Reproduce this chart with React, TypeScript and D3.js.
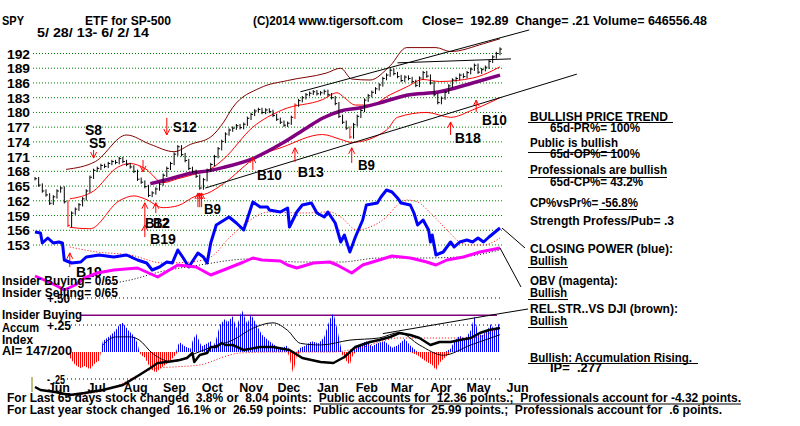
import * as d3 from "d3";

// SPY closes, every 2nd trading day, 5/28/13 - 6/2/14
const closes = [
  166.5, 165.2, 164.0, 163.2, 161.5, 162.8, 164.0, 164.6, 161.8, 157.0,
  159.5, 160.3, 161.2, 162.4, 164.0, 166.8, 168.2, 168.6, 169.2, 169.0,
  169.6, 170.0, 169.8, 170.6, 170.0, 169.4, 168.9, 168.0, 166.4, 165.8,
  164.9, 163.1, 163.6, 164.4, 165.4, 167.2, 168.6, 169.6, 171.5, 173.0,
  171.4, 170.2, 168.6, 168.0, 167.0, 164.6, 166.3, 168.2, 169.4, 171.0,
  172.6, 174.1, 175.6, 176.4, 176.8, 177.3, 176.9, 177.6, 178.8, 179.6,
  180.3, 180.6, 180.0, 180.5, 180.2, 179.4, 178.6, 178.0, 177.4, 177.8,
  179.0, 181.5, 182.4, 183.0, 183.6, 183.9, 184.2, 183.8, 184.0, 184.3,
  183.6, 183.0, 181.8, 179.2, 178.0, 176.8, 175.0, 177.5, 179.2, 180.4,
  182.5, 183.4, 184.1, 184.8, 185.6, 186.9, 187.6, 188.6, 187.9, 187.3,
  186.5, 187.2, 186.9, 186.3, 185.5, 187.0, 188.1, 187.4, 186.0, 183.6,
  182.0, 182.9, 184.1, 185.4, 186.6, 186.9, 187.6, 187.3, 188.1, 188.8,
  189.6, 188.2, 188.7, 189.2, 190.4, 191.3, 192.0, 192.9,
];
const redBars = [9, 71, 86];

// [trading day, value]
const upperBand: [number, number][] = [
  [17, 168.4], [33, 170], [50, 175.4], [63, 173.5], [76, 172], [85, 173.5], [96, 175],
  [103, 178], [108, 181], [123, 185], [138, 186.5], [159, 188], [167, 189], [173, 186.8],
  [183, 186.6], [194, 189.5], [203, 193.2], [219, 193.2], [227, 192.4], [245, 194], [254, 195],
];
const midBand: [number, number][] = [
  [19, 162.4], [32, 164], [45, 168.8], [52, 169.6], [60, 168.6], [70, 165.7], [78, 166.5],
  [88, 167.5], [96, 168.5], [103, 170.5], [119, 177], [135, 180.5], [157, 182.6], [165, 184],
  [169, 183], [175, 181.5], [183, 181.5], [194, 183.6], [203, 185.2], [212, 186.7], [221, 186.3],
  [239, 187], [247, 188], [254, 189.3],
];
const lowerBand: [number, number][] = [
  [19, 156.6], [30, 156.3], [46, 162], [54, 163], [60, 162.4], [70, 160.6], [78, 161],
  [88, 163], [94, 163.5], [103, 165.5], [121, 170.9], [135, 172.9], [157, 175.5], [167, 174.5],
  [173, 173.9], [192, 176.4], [198, 179], [214, 180], [227, 179], [239, 180.5], [254, 183],
];
const ma65: [number, number][] = [
  [63, 165.5], [74, 166.5], [85, 167.6], [96, 168.2], [103, 168.8], [119, 170.6], [135, 173.7],
  [149, 177], [157, 178.8], [167, 180.3], [177, 180.9], [188, 181.9], [203, 183.5], [221, 184.2],
  [239, 186], [254, 187.6],
];
const trendLines: [number, number][][] = [
  [[93, 164.6], [296, 187.8]],
  [[145, 184.2], [270, 196.8]],
  [[198, 190.1], [260, 190.9]],
];

const closingPower: [number, number][] = [
  [0, 38], [3, 37], [4, 27], [7, 32], [10, 27], [13, 28], [15, 27], [16, 10], [20, 7], [25, 8],
  [28, 13], [35, 15], [43, 13], [50, 15], [56, 10], [61, 7], [64, 0], [68, 3], [72, 8], [75, 7],
  [78, 20], [81, 12], [84, 3], [89, 17], [92, 13], [94, 7], [96, 27], [99, 45], [106, 53],
  [110, 47], [114, 40], [119, 68], [123, 63], [127, 63], [128, 60], [134, 58], [138, 62],
  [139, 43], [143, 58], [146, 65], [151, 67], [154, 57], [158, 53], [160, 58], [164, 47],
  [167, 28], [169, 35], [172, 18], [175, 33], [179, 50], [181, 65], [187, 67], [189, 73],
  [192, 80], [195, 78], [198, 72], [200, 67], [205, 65], [207, 57], [209, 45], [212, 50],
  [215, 40], [216, 28], [217, 35], [219, 15], [223, 18], [227, 28], [229, 23], [232, 28],
  [236, 30], [239, 28], [242, 32], [245, 28], [248, 33], [254, 42],
];
const cpAverage: [number, number][] = [
  [19, 23], [34, 18], [52, 15], [70, 7], [85, 8], [96, 13], [106, 32], [116, 48], [128, 58],
  [146, 57], [161, 58], [167, 53], [176, 40], [183, 43], [192, 53], [198, 65], [203, 70],
  [209, 68], [216, 57], [225, 40], [232, 28], [238, 25], [245, 25], [254, 32],
];
const obv: [number, number][] = [
  [0, 24], [5, 20], [11, 15], [16, 10], [22, 15], [27, 22], [34, 27], [43, 30], [56, 32],
  [67, 23], [78, 35], [88, 33], [96, 25], [103, 30], [114, 38], [119, 42], [124, 40], [134, 39],
  [138, 35], [143, 32], [152, 37], [161, 38], [165, 35], [173, 27], [179, 35], [188, 40],
  [195, 44], [205, 42], [214, 38], [219, 35], [225, 40], [234, 43], [243, 48], [254, 52],
];
const obvAverage: [number, number][] = [
  [35, 15], [52, 20], [68, 28], [90, 35], [117, 41], [145, 38], [167, 38], [188, 42],
  [210, 42], [232, 43], [254, 50],
];

const accumIndex: [number, number][] = [
  [19, -0.05], [22, -0.12], [25, -0.15], [27, -0.13], [30, -0.16], [33, -0.1], [35, -0.08],
  [36, 0], [37, 0.1], [41, 0.15], [44, 0.2], [46, 0.25], [48, 0.27], [51, 0.2], [54, 0.15],
  [56, 0.08], [57, 0], [58, -0.03], [60, -0.05], [63, -0.15], [66, -0.19], [68, -0.16],
  [71, -0.12], [74, -0.08], [77, -0.02], [78, 0.06], [79, 0.09], [82, 0.05], [85, 0.03],
  [86, 0.1], [88, 0.17], [91, 0.05], [93, 0.07], [96, 0.1], [97, 0.03], [99, 0.12], [101, 0.25],
  [104, 0.31], [105, 0.27], [108, 0.33], [110, 0.22], [113, 0.39], [116, 0.26], [118, 0.35],
  [122, 0.22], [124, 0.16], [128, 0.1], [132, 0.05], [135, 0.04], [138, 0.06], [139, -0.05],
  [141, -0.2], [143, -0.03], [145, 0.04], [148, 0.06], [151, 0.1], [155, 0.08], [158, 0.14],
  [161, 0.3], [163, 0.36], [165, 0.22], [167, 0.05], [168, -0.03], [170, -0.08], [172, -0.12],
  [173, -0.05], [175, 0.03], [177, 0.07], [181, 0.1], [184, 0.05], [187, 0.08], [191, 0.1],
  [195, 0.04], [198, 0.06], [202, 0.12], [205, 0.06], [209, -0.03], [213, -0.08], [217, -0.12],
  [219, -0.17], [221, -0.1], [224, -0.05], [227, 0.03], [229, 0.1], [232, 0.15], [235, 0.12],
  [238, 0.2], [240, 0.33], [242, 0.18], [244, 0.15], [247, 0.2], [249, 0.26], [251, 0.2],
  [254, 0.28],
];
const aiAverage: [number, number][] = [
  [37, 0.065], [44, 0.14], [52, 0.14], [57, 0.11], [64, -0.01], [75, -0.09], [88, -0.01],
  [97, 0.05], [108, 0.11], [119, 0.22], [130, 0.27], [138, 0.2], [145, 0.08], [156, 0.065],
  [172, 0.11], [188, 0.13], [199, 0.18], [210, 0.065], [223, -0.03], [238, 0.065], [254, 0.16],
];
const relStrength: [number, number][] = [
  [0, 13], [3, 10], [11, 8], [19, 5], [27, 7], [37, 10], [48, 15], [57, 25], [63, 32], [67, 37],
  [72, 38], [79, 40], [83, 42], [86, 47], [87, 38], [90, 45], [94, 47], [96, 53], [99, 53],
  [102, 57], [104, 55], [108, 55], [114, 50], [123, 53], [130, 53], [139, 50], [146, 42],
  [156, 38], [163, 37], [169, 43], [175, 53], [183, 58], [188, 60], [194, 63], [199, 67],
  [205, 65], [210, 62], [216, 55], [221, 58], [227, 58], [232, 60], [238, 62], [243, 67],
  [248, 70], [254, 72],
];
const rsAverage: [number, number][] = [
  [19, 4], [39, 10], [67, 32], [75, 33], [90, 35], [103, 43], [112, 47], [130, 48], [163, 48],
  [177, 52], [199, 62], [216, 62], [238, 62], [254, 72],
];
const aiTrend: [number, number][] = [[190, 0.17], [252, 0.35]];
const insiderLevel = 0.34;

// signals: [day, tip price, tail price]
const signalArrows: [number, number, number][] = [
  [32, 170.7, 172.35], [72, 175.4, 178.9], [59, 167.9, 170.3],
  [60, 161.6, 157.1], [60, 157.1, 154.6], [66, 161.6, 159.5],
  [89, 163.6, 160.7], [90, 163.6, 160.7], [91, 163.6, 160.7],
  [119, 170.9, 168.3], [142, 172.8, 169.9], [173, 172.8, 169.7],
  [227, 178.05, 175.4], [241, 182.5, 180.1], [19, 151.4, 148.5],
];
// [text, day, price]
const signalLabels: [string, number, number][] = [
  ["S8", 27.3, 175.4], ["S5", 29.5, 172.75], ["S12", 75.3, 176.0],
  ["B12", 60.1, 156.5], ["B2", 64.4, 156.5], ["B19", 62.8, 153.2],
  ["B9", 92.3, 159.3], ["B10", 121.2, 166.2], ["B13", 143.6, 166.8],
  ["B9", 176.4, 168.3], ["B18", 229.3, 173.8], ["B10", 244.1, 177.4],
  ["B19", 22.4, 146.5],
];

const priceTicks = [192, 189, 186, 183, 180, 177, 174, 171, 168, 165, 162, 159, 156, 153];
const monthLabels = ["Jun", "Jul", "Aug", "Sep", "Oct", "Nov", "Dec", "Jan", "Feb", "Mar", "Apr", "May", "Jun"];
const aiTicks: [number, string][] = [[0.5, "+.50"], [0.25, "+.25"], [-0.25, "- .25"]];

const FONT = "'Liberation Sans', Arial, Helvetica, sans-serif";
const RED = "#ff0000";

const x = d3.scaleLinear().domain([0, 254]).range([35, 500]);
const y = d3.scaleLinear().domain([153, 192]).range([245, 53.5]);
const tx = d3.scaleTime().domain([new Date(2013, 4, 28), new Date(2014, 5, 2)]).range([35, 500]);
const cpY = d3.scaleLinear().domain([0, 85]).range([270, 185]);
const obvY = d3.scaleLinear().domain([0, 100]).range([300, 200]);
const aiY = d3.scaleLinear().domain([-0.25, 0.5]).range([379, 298]);
const rsY = d3.scaleLinear().domain([0, 100]).range([400, 300]);

type P = [number, number];
const priceLine = d3.line<P>().x((d) => x(d[0])).y((d) => y(d[1])).curve(d3.curveMonotoneX);
const mk = (sy: d3.ScaleLinear<number, number>, curve = d3.curveLinear) =>
  d3.line<P>().x((d) => x(d[0])).y((d) => sy(d[1])).curve(curve);
const aiPos = d3.area<P>().x((d) => x(d[0])).y0(aiY(0)).y1((d) => aiY(Math.max(0, d[1])));
const aiNeg = d3.area<P>().x((d) => x(d[0])).y0(aiY(0)).y1((d) => aiY(Math.min(0, d[1])));

function T({ x, y, w, size = 12, children, anchor }: any) {
  return (
    <text x={x} y={y} textLength={w} lengthAdjust={w ? "spacingAndGlyphs" : undefined}
      fontFamily={FONT} fontWeight="bold" fontSize={size} fill="#000"
      textAnchor={anchor} style={{ whiteSpace: "pre" }}>
      {children}
    </text>
  );
}

const labelWidth: Record<string, number> = { S8: 17, S5: 17, S12: 24, B12: 24, B2: 17, B19: 26, B9: 17, B10: 25, B13: 26, B18: 26 };
const aiTickWidth: Record<string, number> = { "+.50": 23, "+.25": 24, "- .25": 18 };

export default function App() {
  const months = d3.timeMonth.range(new Date(2013, 5, 1), new Date(2014, 6, 1));
  const lastCp = closingPower[closingPower.length - 1];
  const lastObv = obv[obv.length - 1];
  const lastTrend = aiTrend[aiTrend.length - 1];

  return (
    <svg width={800} height={426} style={{ position: "absolute", left: 0, top: 0, background: "#fff" }}>
      <defs>
        <pattern id="blueStripes" width={2} height={4} patternUnits="userSpaceOnUse">
          <rect width={1} height={4} fill="#0000ff" />
        </pattern>
        <pattern id="redStripes" width={2} height={4} patternUnits="userSpaceOnUse">
          <rect width={1} height={4} fill={RED} />
        </pattern>
      </defs>
      <rect width={800} height={426} fill="#fff" />

      {/* header */}
      <T x={2} y={25} w={22}>SPY</T>
      <T x={85} y={25} w={86}>ETF for SP-500</T>
      <T x={253} y={25} w={150}>(C)2014 www.tigersoft.com</T>
      <T x={422} y={25} w={285}>Close=  192.89  Change= .21 Volume= 646556.48</T>
      <T x={37} y={37} w={112}>5/ 28/ 13- 6/ 2/ 14</T>

      {/* price grid */}
      {priceTicks.map((p) => (
        <g key={p}>
          <line x1={33} x2={503} y1={y(p)} y2={y(p)} stroke="#008000" strokeDasharray="1 2" />
          <T x={7} y={y(p) + 5} w={23}>{String(p)}</T>
        </g>
      ))}

      {/* bands and averages */}
      <path d={priceLine(upperBand) ?? ""} fill="none" stroke="#800000" strokeWidth={1} />
      <path d={priceLine(midBand) ?? ""} fill="none" stroke={RED} strokeWidth={1} />
      <path d={priceLine(lowerBand) ?? ""} fill="none" stroke={RED} strokeWidth={1} />
      <path d={priceLine(ma65) ?? ""} fill="none" stroke="#800080" strokeWidth={3.5} />
      {trendLines.map((t, i) => (
        <line key={i} x1={x(t[0][0])} y1={y(t[0][1])} x2={x(t[1][0])} y2={y(t[1][1])} stroke="#000" strokeWidth={1} />
      ))}

      {/* price bars */}
      {closes.map((c, i) => {
        const prev = i > 0 ? closes[i - 1] : c;
        const hi = Math.max(prev, c) + 0.35;
        const lo = Math.min(prev, c) - 0.35;
        const bx = x(i * 2);
        const col = redBars.includes(i) ? RED : "#000";
        return (
          <g key={i} stroke={col}>
            <line x1={bx} x2={bx} y1={y(hi)} y2={y(lo)} />
            <line x1={bx} x2={bx + 2} y1={y(c)} y2={y(c)} />
          </g>
        );
      })}

      {/* signals */}
      {signalArrows.map(([d, tip, tail], i) => {
        const ax = x(d);
        const ty = y(tip);
        const ly = y(tail);
        const dir = ty < ly ? 1 : -1;
        return (
          <g key={i} stroke={RED} fill="none">
            <line x1={ax} x2={ax} y1={ty} y2={ly} />
            <path d={`M${ax - 3},${ty + dir * 6}L${ax},${ty}L${ax + 3},${ty + dir * 6}`} />
          </g>
        );
      })}
      {signalLabels.map(([s, d, p], i) => (
        <T key={i} x={x(d)} y={y(p)} w={labelWidth[s]} size={14}>{s}</T>
      ))}

      {/* closing power and OBV */}
      <path d={mk(cpY, d3.curveMonotoneX)(cpAverage) ?? ""} fill="none" stroke={RED} strokeWidth={1} strokeDasharray="1 2" />
      <path d={mk(cpY)(closingPower) ?? ""} fill="none" stroke="#0000ff" strokeWidth={3} strokeLinejoin="round" />
      <path d={mk(obvY, d3.curveMonotoneX)(obvAverage) ?? ""} fill="none" stroke="#000" strokeWidth={1} strokeDasharray="1 2" />
      <path d={mk(obvY)(obv) ?? ""} fill="none" stroke="#ff00ff" strokeWidth={3} strokeLinejoin="round" />
      <line x1={x(lastCp[0]) + 2} y1={cpY(lastCp[1])} x2={525} y2={248} stroke="#000" />
      <line x1={x(lastObv[0])} y1={obvY(lastObv[1])} x2={521} y2={287} stroke="#000" />

      {/* accumulation panel */}
      {aiTicks.map(([v]) => (
        <line key={v} x1={63} x2={502} y1={aiY(v)} y2={aiY(v)} stroke="#000" strokeDasharray="1 3" />
      ))}
      <line x1={80} x2={497} y1={aiY(insiderLevel)} y2={aiY(insiderLevel)} stroke="#800080" strokeWidth={1.5} />
      <path d={aiPos(accumIndex) ?? ""} fill="url(#blueStripes)" />
      <path d={aiNeg(accumIndex) ?? ""} fill="url(#redStripes)" />
      <path d={mk(aiY, d3.curveMonotoneX)(aiAverage) ?? ""} fill="none" stroke="#000" strokeWidth={1} />
      <path d={mk(rsY, d3.curveMonotoneX)(rsAverage) ?? ""} fill="none" stroke={RED} strokeWidth={1} strokeDasharray="1 2" />
      <path d={mk(rsY)(relStrength) ?? ""} fill="none" stroke="#000" strokeWidth={2.5} strokeLinejoin="round" />
      <path d={mk(aiY)(aiTrend) ?? ""} fill="none" stroke="#000" strokeWidth={1} />
      <line x1={x(lastTrend[0])} y1={aiY(lastTrend[1])} x2={528} y2={309} stroke="#000" />
      <line x1={32} x2={32} y1={377} y2={392} stroke="#808000" />

      {/* left labels */}
      <T x={2} y={285} w={116}>Insider Buying= 0/65</T>
      <T x={2} y={297} w={116}>Insider Selling= 0/65</T>
      {aiTicks.map(([v, s]) => (
        <T key={s} x={47} y={aiY(v) + 5} w={aiTickWidth[s]}>{s}</T>
      ))}
      <T x={2} y={319} w={80}>Insider Buying</T>
      <T x={2} y={332} w={37}>Accum</T>
      <T x={2} y={344} w={31}>Index</T>
      <T x={2} y={355} w={70}>AI= 147/200</T>

      {/* month axis */}
      {months.map((m, i) => (
        <T key={i} x={tx(d3.timeDay.offset(m, 15))} y={392} anchor="middle" size={12.5}>{monthLabels[i]}</T>
      ))}

      {/* right text block */}
      <T x={530} y={121} w={138}>BULLISH PRICE TREND</T>
      <line x1={528} x2={673} y1={122.5} y2={122.5} stroke="#000" />
      <T x={550} y={132} w={90}>65d-PR%= 100%</T>
      <T x={530} y={147} w={88}>Public is bullish</T>
      <line x1={528} x2={618} y1={152.5} y2={152.5} stroke="#000" />
      <T x={550} y={158} w={90}>65d-OP%= 100%</T>
      <T x={530} y={174} w={137}>Professionals are bullish</T>
      <line x1={528} x2={667} y1={177.5} y2={177.5} stroke="#000" />
      <T x={550} y={186} w={93}>65d-CP%= 43.2%</T>
      <T x={530} y={207} w={108}>CP%vsPr%= -56.8%</T>
      <line x1={599} x2={637} y1={209.5} y2={209.5} stroke="#000" />
      <T x={530} y={225} w={144}>Strength Profess/Pub= .3</T>
      <T x={530} y={253} w={143}>CLOSING POWER (blue):</T>
      <T x={530} y={265} w={37}>Bullish</T>
      <line x1={528} x2={568} y1={267.5} y2={267.5} stroke="#000" />
      <T x={530} y={285} w={88}>OBV (magenta):</T>
      <T x={530} y={297} w={37}>Bullish</T>
      <line x1={528} x2={568} y1={299.5} y2={299.5} stroke="#000" />
      <T x={530} y={313} w={148}>REL.STR..VS DJI (brown):</T>
      <T x={530} y={325} w={37}>Bullish</T>
      <line x1={528} x2={568} y1={327.5} y2={327.5} stroke="#000" />
      <T x={530} y={362} w={162}>Bullish: Accumulation Rising.</T>
      <line x1={528} x2={698} y1={363.5} y2={363.5} stroke="#000" />
      <T x={550} y={372} w={52}>IP=  .277</T>

      {/* bottom lines */}
      <T x={7} y={402} w={734}>For Last 65 days stock changed  3.8% or  8.04 points:  Public accounts for  12.36 points.;  Professionals account for -4.32 points.</T>
      <line x1={320} x2={741} y1={404} y2={404} stroke="#000" />
      <T x={7} y={414} w={715}>For Last year stock changed  16.1% or  26.59 points:  Public accounts for  25.99 points.;  Professionals account for  .6 points.</T>
    </svg>
  );
}
